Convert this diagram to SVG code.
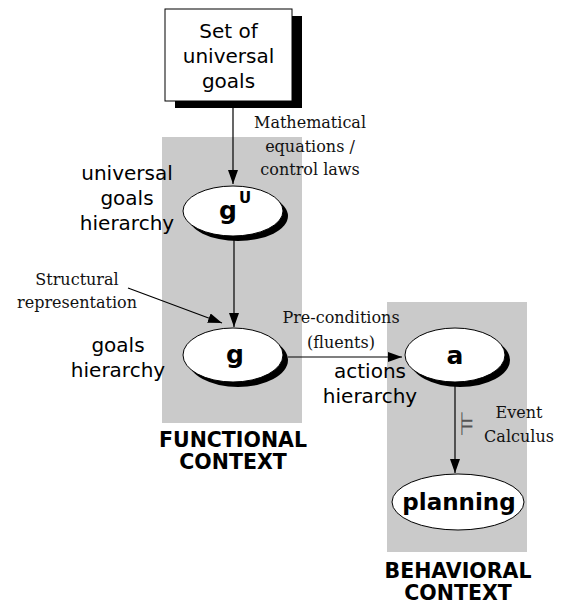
<svg xmlns="http://www.w3.org/2000/svg" width="562" height="605" viewBox="0 0 562 605">
<style>
.ctx{fill:#cacaca}
.sans{font-family:"DejaVu Sans","Verdana",sans-serif;font-size:20px;fill:#000}
.serif{font-family:"DejaVu Serif","Liberation Serif",serif;font-size:16px;fill:#111}
.bold{font-family:"DejaVu Sans",sans-serif;font-weight:bold;fill:#000}
.title{font-family:"DejaVu Sans",sans-serif;font-weight:bold;font-size:20.5px;fill:#000}
.node{fill:#fff;stroke:#000;stroke-width:1}
.shadow{fill:#000}
.edge{stroke:#000;stroke-width:1.2;fill:none}
</style>
<defs>
<marker id="arr" markerUnits="userSpaceOnUse" markerWidth="14" markerHeight="10" refX="14" refY="5" orient="auto">
<path d="M0,0 L14,5 L0,10 Z" fill="#000"/>
</marker>
</defs>
<rect class="ctx" x="162" y="137" width="140" height="286"/>
<rect class="ctx" x="387" y="302" width="140" height="250"/>
<g id="connectors">
<line class="edge" x1="233" y1="101" x2="233" y2="184" marker-end="url(#arr)"/>
<line class="edge" x1="234" y1="238" x2="234" y2="327" marker-end="url(#arr)"/>
<line class="edge" x1="128" y1="288" x2="222" y2="323" marker-end="url(#arr)"/>
<line class="edge" x1="288" y1="357" x2="402" y2="357" marker-end="url(#arr)"/>
<line class="edge" x1="455" y1="386" x2="455" y2="473" marker-end="url(#arr)"/>
</g>
<g id="universal-goals">
<rect class="shadow" x="175" y="16" width="127" height="92"/>
<rect class="node" x="165" y="9" width="127" height="92"/>
<text class="sans" text-anchor="middle" x="228.5" y="38">Set of</text>
<text class="sans" text-anchor="middle" x="228.5" y="63">universal</text>
<text class="sans" text-anchor="middle" x="228.5" y="88">goals</text>
</g>
<g id="gU">
<ellipse class="shadow" cx="238" cy="216" rx="50" ry="25"/>
<ellipse class="node" cx="233" cy="211" rx="50" ry="25"/>
<text class="bold" font-size="25" text-anchor="middle" x="228" y="219">g</text>
<text class="bold" font-size="15" text-anchor="middle" x="245" y="203">U</text>
</g>
<g id="g">
<ellipse class="shadow" cx="238" cy="360" rx="50" ry="27"/>
<ellipse class="node" cx="233" cy="355" rx="50" ry="27"/>
<text class="bold" font-size="25" text-anchor="middle" x="235" y="363">g</text>
</g>
<g id="a">
<ellipse class="shadow" cx="460" cy="360" rx="50" ry="27"/>
<ellipse class="node" cx="455" cy="355" rx="50" ry="27"/>
<text class="bold" font-size="25" text-anchor="middle" x="455" y="364">a</text>
</g>
<g id="planning">
<ellipse class="node" cx="458" cy="502" rx="66" ry="28"/>
<text class="bold" font-size="23" text-anchor="middle" x="459" y="510">planning</text>
</g>
<g id="labels">
<text class="serif" text-anchor="middle" x="310" y="128">Mathematical</text>
<text class="serif" text-anchor="middle" x="310" y="152">equations /</text>
<text class="serif" text-anchor="middle" x="310" y="175">control laws</text>
<text class="sans" text-anchor="middle" x="127" y="180">universal</text>
<text class="sans" text-anchor="middle" x="127" y="205">goals</text>
<text class="sans" text-anchor="middle" x="127" y="230">hierarchy</text>
<text class="serif" text-anchor="middle" x="77" y="285">Structural</text>
<text class="serif" text-anchor="middle" x="77" y="308">representation</text>
<text class="sans" text-anchor="middle" x="118" y="352">goals</text>
<text class="sans" text-anchor="middle" x="118" y="377">hierarchy</text>
<text class="serif" text-anchor="middle" x="341" y="323">Pre-conditions</text>
<text class="serif" text-anchor="middle" x="341" y="348">(fluents)</text>
<text class="sans" text-anchor="middle" x="370" y="378">actions</text>
<text class="sans" text-anchor="middle" x="370" y="403">hierarchy</text>
<text class="serif" text-anchor="middle" x="519" y="418">Event</text>
<text class="serif" text-anchor="middle" x="519" y="442">Calculus</text>
<text font-family="DejaVu Sans,sans-serif" font-size="24" fill="#555" transform="translate(460,435) scale(0.65,1.35)">⊨</text>
<text class="title" text-anchor="middle" x="233" y="447">FUNCTIONAL</text>
<text class="title" text-anchor="middle" x="233" y="469">CONTEXT</text>
<text class="title" text-anchor="middle" x="458" y="578">BEHAVIORAL</text>
<text class="title" text-anchor="middle" x="458" y="600">CONTEXT</text>
</g>
</svg>
